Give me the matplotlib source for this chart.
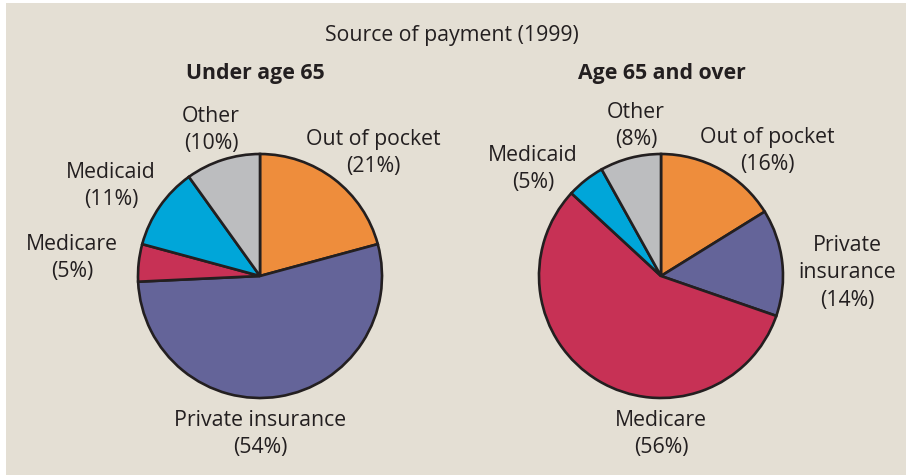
import matplotlib
matplotlib.use("Agg")
import matplotlib.pyplot as plt
from matplotlib.patches import Rectangle

plt.rcParams['font.family'] = ['Open Sans', 'DejaVu Sans']

# data
categories = ["Out of pocket", "Private insurance", "Medicare", "Medicaid", "Other"]
under65 = [21, 54, 5, 11, 10]
over65 = [16, 14, 56, 5, 8]
colors = ["#ee8d3c", "#646499", "#c73155", "#00a6d9", "#bcbdbf"]

W, H = 906, 477
fig = plt.figure(figsize=(W / 100, H / 100), dpi=100, facecolor="white")
ax = fig.add_axes([0, 0, 1, 1])

ax.add_patch(Rectangle((6, 1), W - 6, H - 5, facecolor="#e4dfd4", edgecolor="none", zorder=0))

def py(y):
    # pixel row -> data y
    return H - y

txt = "#231f20"
fs = 15.3
ax.text(452, py(35), "Source of payment (1999)", ha="center", va="center", fontsize=fs, color=txt)
ax.text(255, py(74), "Under age 65", ha="center", va="center", fontsize=fs, fontweight="bold", color=txt)
ax.text(662, py(74), "Age 65 and over", ha="center", va="center", fontsize=fs, fontweight="bold", color=txt)

wp = dict(edgecolor=txt, linewidth=1.9)
for vals, cx in [(under65, 260), (over65, 661)]:
    ax.pie(vals, colors=colors, center=(cx, py(277)), radius=122, startangle=90,
           counterclock=False, wedgeprops=wp, frame=True)

ax.set_xlim(0, W)
ax.set_ylim(0, H)
ax.set_aspect("equal")
ax.axis("off")

# label positions (pixel centres)
pos_left = {"Out of pocket": (373, 153), "Private insurance": (260, 434),
            "Medicare": (72, 258), "Medicaid": (111, 186), "Other": (211, 130)}
pos_right = {"Out of pocket": (767, 151), "Private insurance": (847, 273),
             "Medicare": (661, 434), "Medicaid": (533, 169), "Other": (636, 126)}

for vals, pos in [(under65, pos_left), (over65, pos_right)]:
    for cat, v in zip(categories, vals):
        name = cat
        if cat == "Private insurance" and pos is pos_right:
            name = "Private\ninsurance"
        x, y = pos[cat]
        ax.text(x, py(y), f"{name}\n({v}%)", ha="center", va="center", fontsize=fs,
                color=txt, linespacing=1.38)

fig.savefig("out.png", dpi=100, facecolor="white")
